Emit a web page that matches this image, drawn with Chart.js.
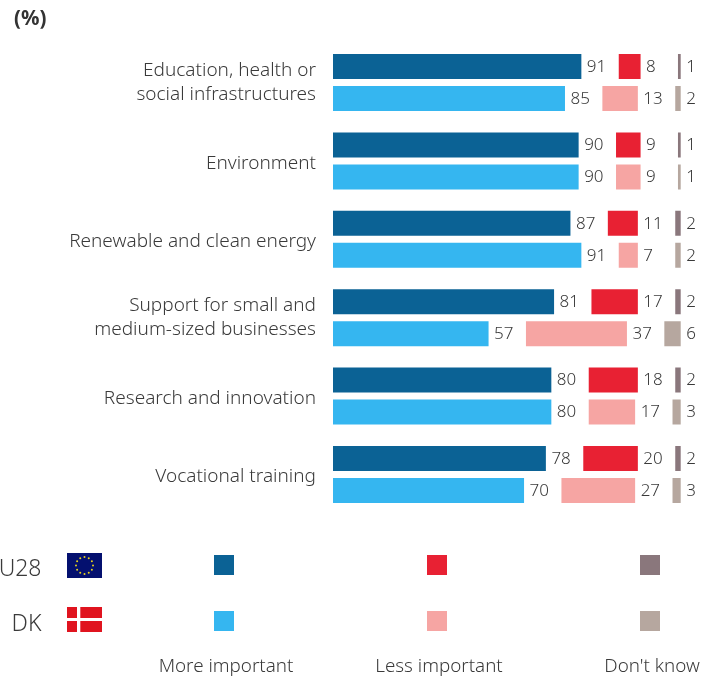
<!DOCTYPE html>
<html><head><meta charset="utf-8">
<script src="https://cdn.jsdelivr.net/npm/chart.js@4"></script>
<style>
html,body{margin:0;padding:0;background:#fff;width:711px;height:677px;overflow:hidden;font-family:"Noto Sans",sans-serif;color:#3a3a3a}
#c{position:absolute;left:0;top:0}
.t{position:absolute;white-space:nowrap;font-weight:300}
.sq{position:absolute;width:20px;height:20px}
svg{position:absolute}
</style></head><body>
<canvas id="c" width="711" height="677"></canvas>
<div class="t" style="left:14px;top:5px;font-size:20.5px;font-weight:700;line-height:24px;color:#333">(%)</div>
<div id="legend"></div>
<svg style="left:67px;top:553px" width="35" height="25" viewBox="0 0 35 25"><rect width="35" height="25" fill="#04106f"/><g id="stars" fill="#e8d21f"></g></svg>
<svg style="left:67px;top:607px" width="35" height="25" viewBox="0 0 35 25"><rect width="35" height="25" fill="#e0141f"/><rect x="10" width="3.3" height="25" fill="#fff"/><rect y="11" width="35" height="3" fill="#fff"/></svg>
<script>
const categories=[["Education, health or","social infrastructures"],["Environment"],["Renewable and clean energy"],["Support for small and","medium-sized businesses"],["Research and innovation"],["Vocational training"]];
const euMore=[91,90,87,81,80,78];
const euLess=[8,9,11,17,18,20];
const euDk=[1,1,2,2,2,2];
const dkMore=[85,90,91,57,80,70];
const dkLess=[13,9,7,37,17,27];
const dkDk=[2,1,2,6,3,3];
const spacer=[13.7,13.7,13.7,13.7,13.7,13.7];
const countries=["EU28","DK"];
const responses=["More important","Less important","Don't know"];
const colMore=["#0b6295","#35b6f0"];
const colLess=["#e82133","#f6a5a3"];
const colDk=["#8a777c","#b6a79f"];

const ff='"Noto Sans",sans-serif';
function ds(stack,data,color){return {stack,data,backgroundColor:color,borderWidth:0,showValue:true};}
function gap(stack){return {stack,data:spacer,backgroundColor:"rgba(0,0,0,0)",borderWidth:0,showValue:false};}

const valueLabels={id:"valueLabels",afterDatasetsDraw(chart){
  const ctx=chart.ctx;ctx.save();
  ctx.font='300 17px '+ff;ctx.fillStyle="#3a3a3a";ctx.textAlign="left";ctx.textBaseline="middle";
  chart.data.datasets.forEach((d,i)=>{
    if(!d.showValue)return;
    chart.getDatasetMeta(i).data.forEach((el,j)=>{ctx.fillText(String(d.data[j]),el.x+5.5,el.y+0.5);});
  });
  ctx.restore();
}};
// single-line category labels sit slightly below the band centre in the reference
const nudgeLabels={id:"nudgeLabels",beforeDraw(chart){
  chart.scales.y.getLabelItems().forEach(it=>{
    if(it.label.length===1&&!it.nudged){it.textOffset+=2.5;it.nudged=true;}
  });
}};

new Chart(document.getElementById("c"),{
  type:"bar",
  data:{labels:categories,datasets:[
    ds("EU28",euMore,colMore[0]),gap("EU28"),ds("EU28",euLess,colLess[0]),gap("EU28"),ds("EU28",euDk,colDk[0]),
    ds("DK",dkMore,colMore[1]),gap("DK"),ds("DK",dkLess,colLess[1]),gap("DK"),ds("DK",dkDk,colDk[1])
  ]},
  options:{
    indexAxis:"y",responsive:false,animation:false,
    categoryPercentage:0.816,barPercentage:0.781,
    layout:{padding:{left:0,right:0,top:43.3,bottom:163.3}},
    plugins:{legend:{display:false},tooltip:{enabled:false}},
    scales:{
      x:{stacked:true,display:false,min:0,max:138.5},
      y:{stacked:true,
         grid:{display:false,drawTicks:false},border:{display:false},
         afterFit(s){s.width=333;},
         ticks:{padding:17,autoSkip:false,color:"#3a3a3a",font:{family:ff,size:19,weight:"300",lineHeight:1.27}}}
    }
  },
  plugins:[valueLabels,nudgeLabels]
});

// legend
const lg=document.getElementById("legend");
const colX=[214,427,640],rowY=[555,610.5],labelCx=[226,439,652];
[colMore,colLess,colDk].forEach((cols,c)=>{
  cols.forEach((col,r)=>{
    const d=document.createElement("div");d.className="sq";
    d.style.cssText=`left:${colX[c]}px;top:${rowY[r]}px;background:${col}`;lg.appendChild(d);
  });
  const t=document.createElement("div");t.className="t";t.textContent=responses[c];
  t.style.cssText=`left:${labelCx[c]}px;top:653px;transform:translateX(-50%);font-size:18.8px;line-height:24px`;
  lg.appendChild(t);
});
countries.forEach((n,r)=>{
  const t=document.createElement("div");t.className="t";t.textContent=n;
  t.style.cssText=`right:${711-41.5}px;top:${[551,606][r]}px;font-size:23px;line-height:32px`;
  lg.appendChild(t);
});
// EU stars
const g=document.getElementById("stars");
for(let i=0;i<12;i++){const a=i*Math.PI/6;
  const e=document.createElementNS("http://www.w3.org/2000/svg","circle");
  e.setAttribute("cx",17.5+8.5*Math.sin(a));e.setAttribute("cy",12.5-8.5*Math.cos(a));e.setAttribute("r",1);g.appendChild(e);}
</script>
</body></html>
